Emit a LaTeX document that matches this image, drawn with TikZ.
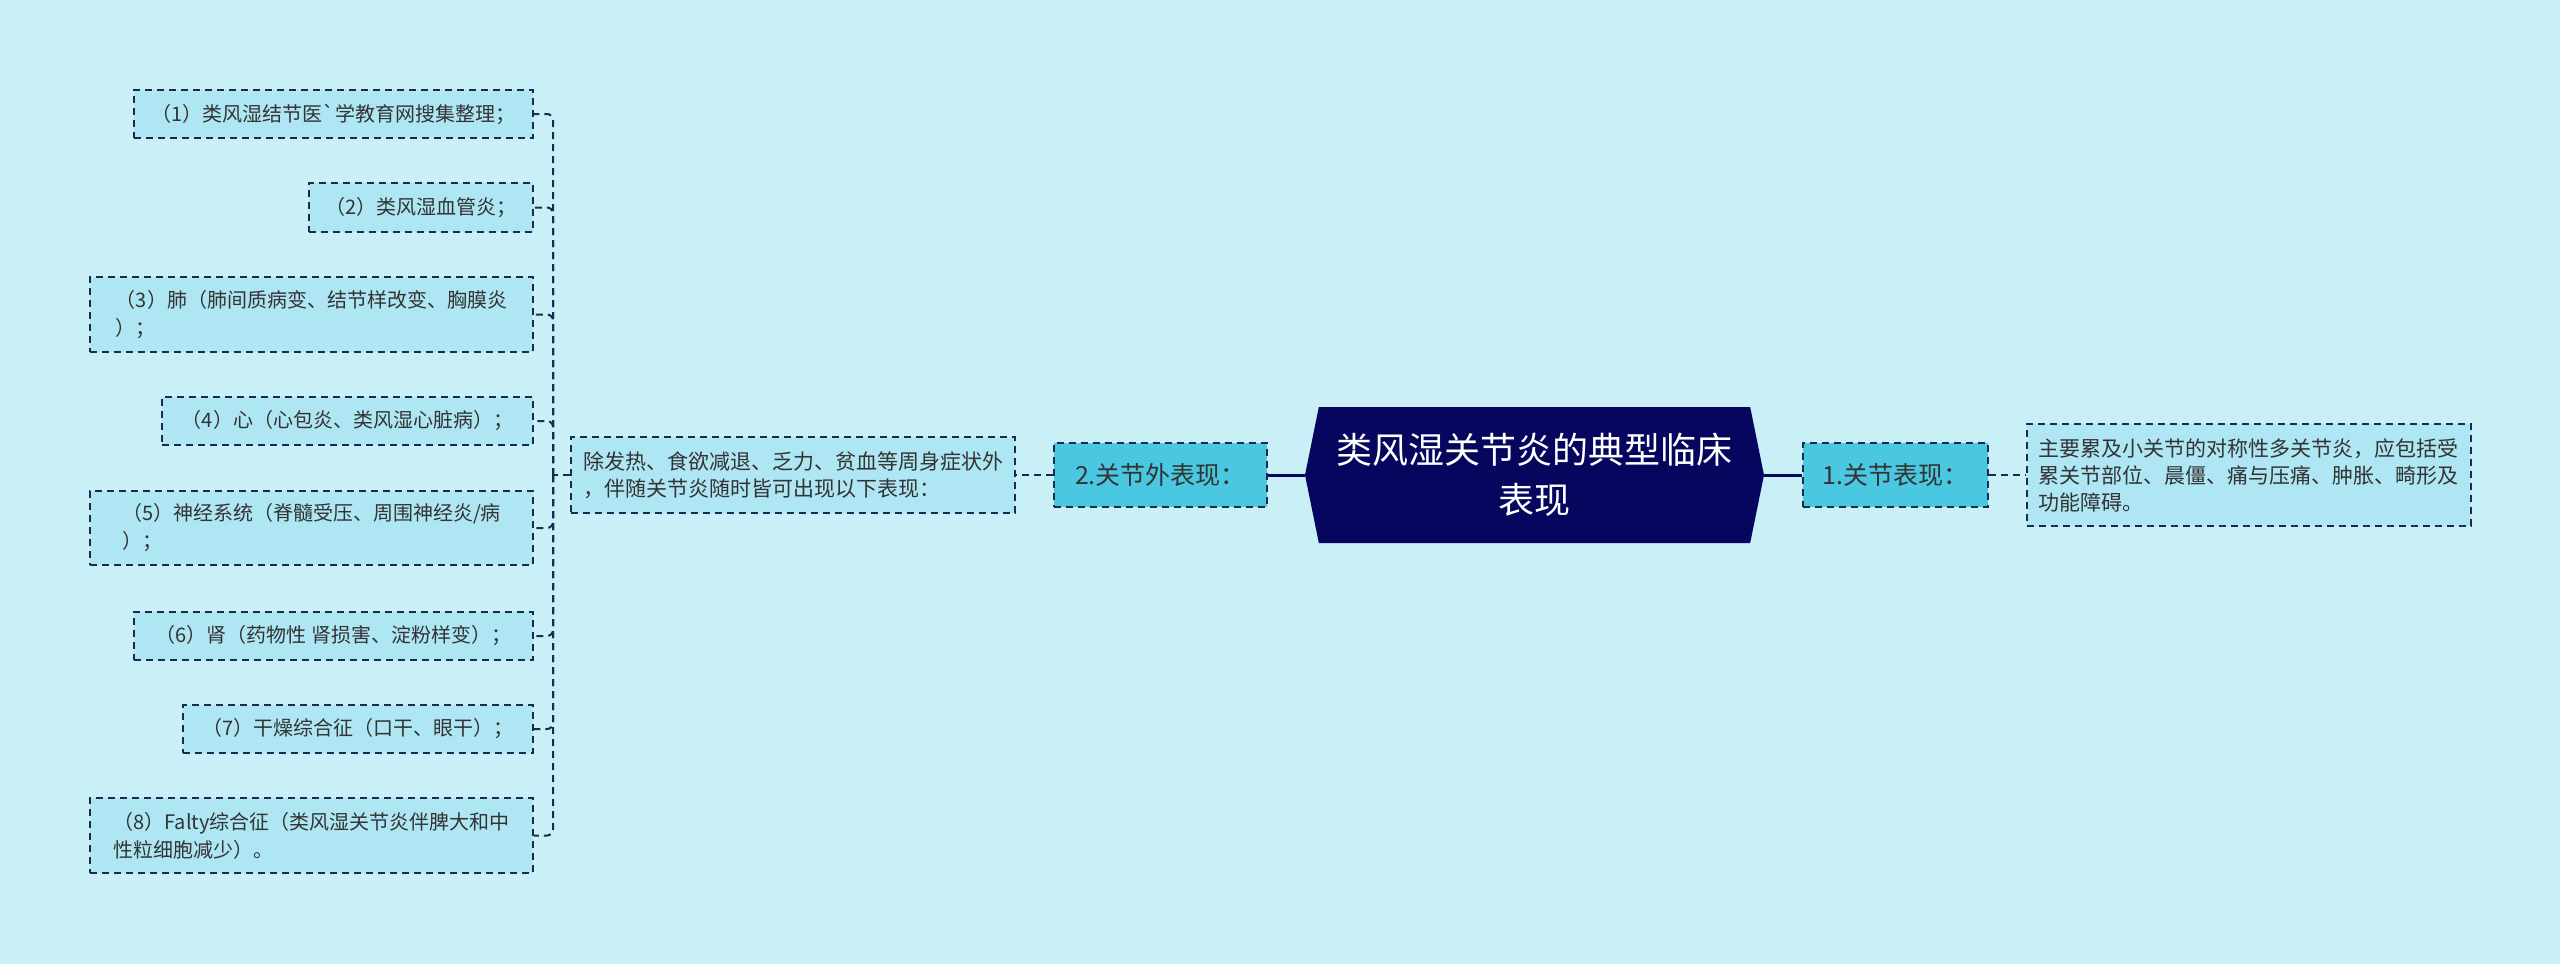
\documentclass[tikz,border=0pt]{standalone}
\usepackage{fontspec}
\newfontfamily\cjk{Noto Sans CJK SC}
\newfontfamily\cjkraw{Noto Sans CJK SC}[Ligatures=TeXOff]
\usetikzlibrary{shapes.symbols}
\definecolor{bg}{HTML}{C9F0F7}
\definecolor{leaff}{HTML}{AEE6F3}
\definecolor{midf}{HTML}{4AC8E2}
\definecolor{navy}{HTML}{06065E}
\definecolor{linec}{HTML}{1B2A4F}
\definecolor{txt}{HTML}{333333}
\begin{document}
\begin{tikzpicture}[x=1pt,y=-1pt,
 box/.style={draw=linec, line width=2pt, dash pattern=on 7pt off 5pt, fill=leaff, text=txt, inner xsep=12pt, inner ysep=0pt, align=left},
 leaf/.style={box, font=\cjk\fontsize{20}{28}\selectfont},
 desc/.style={box, font=\cjk\fontsize{21}{27}\selectfont},
 mid/.style={box, fill=midf, font=\cjk\fontsize{25}{30}\selectfont, inner xsep=0pt},
 conn/.style={draw=linec, line width=2pt, dash pattern=on 7pt off 5pt},
 solidconn/.style={draw=navy, line width=3pt}]
\useasboundingbox (0,0) rectangle (2560,964);
\fill[bg] (0,0) rectangle (2560,964);

% central
\node[signal, signal to=west and east, signal pointer angle=157, fill=navy, text=white,
  minimum width=459pt, minimum height=136pt, inner sep=0pt, align=center,
  font=\cjk\fontsize{36}{50}\selectfont] (c) at (1534.5,475) {类风湿关节炎的典型临床\\表现};

% level 1
\node[mid, minimum width=213pt, minimum height=64pt] (m2) at (1160.5,475) {2.关节外表现：};
\node[mid, minimum width=185pt, minimum height=64pt] (m1) at (1895.5,475) {1.关节表现：};

% descriptions
\node[desc, minimum width=444pt, minimum height=76pt] (d2) at (793,475)
  {除发热、食欲减退、乏力、贫血等周身症状外\\，伴随关节炎随时皆可出现以下表现：};
\node[desc, minimum width=443pt, minimum height=102pt] (d1) at (2248.5,475)
  {主要累及小关节的对称性多关节炎，应包括受\\累关节部位、晨僵、痛与压痛、肿胀、畸形及\\功能障碍。};

% leaves
\node[leaf, minimum width=399pt, minimum height=48pt] (l1) at (333.5,114) {（1）类风湿结节医{\cjkraw`}学教育网搜集整理；};
\node[leaf, minimum width=224pt, minimum height=49pt] (l2) at (421,207.5) {（2）类风湿血管炎；};
\node[leaf, minimum width=443pt, minimum height=75pt] (l3) at (311.5,314.5) {（3）肺（肺间质病变、结节样改变、胸膜炎\\）；};
\node[leaf, minimum width=371pt, minimum height=48pt] (l4) at (347.5,421) {（4）心（心包炎、类风湿心脏病）；};
\node[leaf, minimum width=443pt, minimum height=74pt] (l5) at (311.5,528) {（5）神经系统（脊髓受压、周围神经炎/病\\）；};
\node[leaf, minimum width=399pt, minimum height=48pt] (l6) at (333.5,636) {（6）肾（药物性 肾损害、淀粉样变）；};
\node[leaf, minimum width=350pt, minimum height=48pt] (l7) at (358,729) {（7）干燥综合征（口干、眼干）；};
\node[leaf, minimum width=443pt, minimum height=75pt] (l8) at (311.5,835.5) {（8）Falty综合征（类风湿关节炎伴脾大和中\\性粒细胞减少）。};

% connectors
\coordinate (tr) at (553,475);
\draw[solidconn] (c.west) -- (m2.east);
\draw[solidconn] (c.east) -- (m1.west);
\draw[conn] (m1.east) -- (d1.west);
\draw[conn] (m2.west) -- (d2.east);
\draw[conn] (d2.west) -- (tr);
\foreach \k in {l1,l2,l3,l4,l5,l6,l7,l8}{
  \draw[conn, rounded corners=6pt] (tr) |- (\k.east);
}
\end{tikzpicture}
\end{document}
